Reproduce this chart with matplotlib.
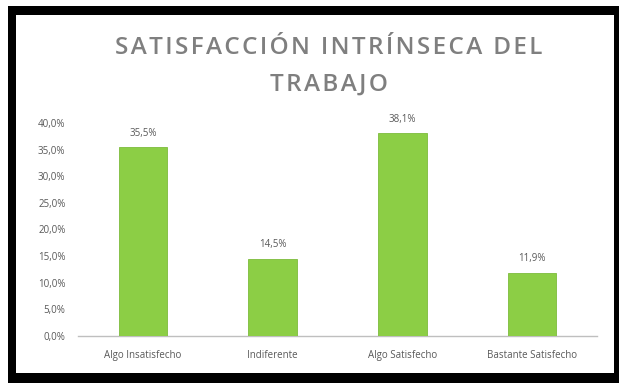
import matplotlib
matplotlib.use("Agg")
import matplotlib.pyplot as plt
from matplotlib.patches import Rectangle

categories = ["Algo Insatisfecho", "Indiferente", "Algo Satisfecho", "Bastante Satisfecho"]
values = [35.5, 14.5, 38.1, 11.9]
yticks = [0, 5, 10, 15, 20, 25, 30, 35, 40]
ytick_labels = ["0,0%", "5,0%", "10,0%", "15,0%", "20,0%", "25,0%", "30,0%", "35,0%", "40,0%"]
title_lines = ["SATISFACCIÓN INTRÍNSECA DEL", "TRABAJO"]

plt.rcParams["font.family"] = ["Open Sans", "DejaVu Sans"]

W, H = 619, 383
fig = plt.figure(figsize=(W / 100, H / 100), dpi=100)
fig.patch.set_facecolor("white")

# black frame round the chart, kept under the axes
fig.patches.append(Rectangle((8 / W, 0), (W - 8) / W, (H - 6) / H, transform=fig.transFigure,
                             facecolor="black", edgecolor="none", zorder=-2))
fig.patches.append(Rectangle((16 / W, (H - 373) / H), (614 - 16) / W, (373 - 15) / H,
                             transform=fig.transFigure, facecolor="white", edgecolor="none", zorder=-1))

ax = fig.add_axes([78 / W, (H - 336) / H, (597 - 78) / W, 213 / H])
ax.set_facecolor("none")

x = range(len(categories))
ax.bar(x, values, width=0.375, color="#8cce45", edgecolor="#7dbb3c", linewidth=0.6, zorder=3)

for xi, v in zip(x, values):
    ax.annotate(f"{v:.1f}%".replace(".", ","), (xi, v), xytext=(0, 6), textcoords="offset points",
                ha="center", va="bottom", fontsize=7, color="#595959")

ax.set_xlim(-0.5, len(categories) - 0.5)
ax.set_ylim(0, 40)
ax.set_yticks(yticks)
ax.set_yticklabels(ytick_labels)
ax.set_xticks(list(x))
ax.set_xticklabels(categories)
ax.tick_params(axis="both", length=0, labelsize=7, labelcolor="#595959")
ax.tick_params(axis="y", pad=9)
ax.tick_params(axis="x", pad=10)

for side in ["top", "right", "left"]:
    ax.spines[side].set_visible(False)
ax.spines["bottom"].set_color("#bfbfbf")
ax.spines["bottom"].set_linewidth(1)

# spaced-out title letters, as in the original
for text, ypix in zip(title_lines, [48, 85]):
    fig.text(329 / W, (H - ypix) / H, "\u200a".join(text), ha="center", va="center",
             fontsize=17.5, fontweight="semibold", color="#7f7f7f")

fig.savefig("out.png", dpi=100)
